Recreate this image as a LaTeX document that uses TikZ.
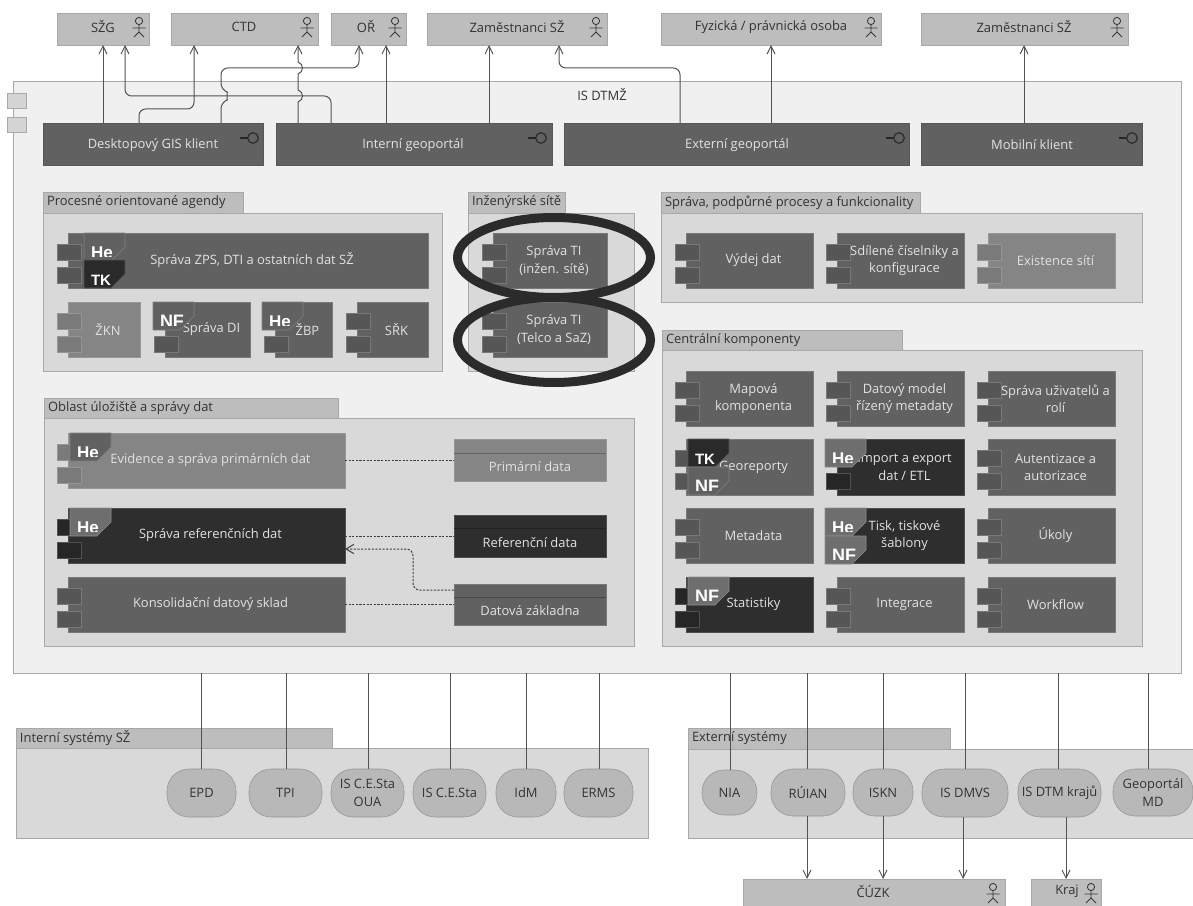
\documentclass[tikz,border=0pt]{standalone}
\usepackage{fontspec}
\setmainfont{Open Sans}
\newfontfamily\tagfont{Liberation Sans}
\usetikzlibrary{arrows.meta,calc,shapes.geometric}
\definecolor{cmid}{HTML}{616161}
\definecolor{cdark}{HTML}{2E2E2E}
\definecolor{clight}{HTML}{858585}
\definecolor{tmid}{HTML}{565656}
\definecolor{tdark}{HTML}{262626}
\definecolor{tlight}{HTML}{7A7A7A}
\definecolor{tagmid}{HTML}{6E6E6E}
\definecolor{tagblk}{HTML}{2A2A2A}
\definecolor{txtl}{HTML}{E2E2E2}
\definecolor{txtd}{HTML}{333333}
\definecolor{edge}{HTML}{A8A8A8}
\tikzset{
  boxbase/.style={inner sep=0pt,outer sep=0pt,font=\fontsize{9.7}{13}\selectfont,align=center},
  mainbox/.style={boxbase,draw=edge,fill=black!6},
  sidetab/.style={boxbase,draw=edge,fill=black!17},
  grpbody/.style={boxbase,draw=edge,fill=black!15},
  grptab/.style={boxbase,draw=edge,fill=black!26,text=txtd},
  actorbox/.style={boxbase,draw=edge,fill=black!26,text=txtd},
  clientbox/.style={boxbase,draw=cmid!90!black,fill=cmid,text=txtl},
  compbody/.style={boxbase,draw=#1!85!white,fill=#1},
  comptab/.style={boxbase,draw=#1!80!white,fill=#1},
  compsec/.style={boxbase,text=txtl},
  plain/.style={boxbase,text=txtd},
  ovalbox/.style={boxbase,draw=black!42,fill=black!28,text=txtd,rounded corners=16.5pt},
  ring/.style={ellipse,draw=black!83,line width=6.75pt,inner sep=0pt,outer sep=0pt},
  tagtext/.style={inner sep=0pt,outer sep=0pt,text=white,anchor=base west,font=\tagfont\bfseries},
  conn/.style={draw=black!68,line width=0.75pt,rounded corners=5pt,-{Straight Barb[length=6pt,width=6pt]}},
  link/.style={draw=black!68,line width=0.75pt},
  dashlink/.style={draw=black!75,line width=0.75pt,dash pattern=on 1.6pt off 1.1pt},
  dasharrow/.style={dashlink,rounded corners=5pt,-{Straight Barb[length=6pt,width=7pt]}},
  lolli/.style={draw=black!85,line width=0.8pt},
  actorline/.style={draw=black!78,line width=0.65pt},
}
\newcommand\bx[7]{%
  \pgfmathsetmacro\bxw{(#5-#3)*0.75}\pgfmathsetmacro\bxh{(#6-#4)*0.75}%
  \pgfmathsetmacro\bxcx{(#3+#5)/2}\pgfmathsetmacro\bxcy{(#4+#6)/2}%
  \node[#1,minimum width=\bxw pt,minimum height=\bxh pt] (#2) at (\bxcx,\bxcy) {#7};}
\newcommand\grp[8]{% name x1 ytop xtab ybody x2 y2 label
  \bx{grpbody}{#1}{#2}{#5}{#6}{#7}{}%
  \bx{grptab}{#1tab}{#2}{#3}{#4}{#5}{}%
  \node[plain,anchor=west] (#1lab) at (#2+4,{(#3+#5)/2}) {#8};}
\newcommand\comp[8]{% name x1 y1 x2 y2 fill tabfill text
  \bx{compbody=#6}{#1}{#2}{#3}{#4}{#5}{}%
  \pgfmathsetmacro\ta{#2-11}\pgfmathsetmacro\tb{#2+13}%
  \pgfmathsetmacro\tc{#3+11}\pgfmathsetmacro\td{#3+27}\pgfmathsetmacro\te{#3+34}\pgfmathsetmacro\tf{#3+50}%
  \bx{comptab=#7}{#1a}{\ta}{\tc}{\tb}{\td}{}%
  \bx{comptab=#7}{#1b}{\ta}{\te}{\tb}{\tf}{}%
  \node[compsec] (#1t) at ({(#2+#4)/2+4},{(#3+#5)/2}) {#8};}
\newcommand\tagbox[7]{% name x y fill text cliph size
  \fill[#4,draw=#4!80!white,line width=0.4pt] (#2,#3) -- (#2+41,#3) -- (#2+41,#3+14) -- (#2+27,#3+28) -- (#2,#3+28) -- cycle;
  \begin{scope}
    \clip (#2,#3) rectangle (#2+41,#3+#6);
    \node[tagtext] (#1) at (#2+7,#3+25) {\fontsize{#7}{14}\selectfont #5};
  \end{scope}}
\newcommand\actoricon[2]{%
  \draw[actorline] (#1,#2-6) circle[radius=3.6];
  \draw[actorline] (#1,#2-2.4) -- (#1,#2+5) (#1-6.5,#2+1) -- (#1+6.5,#2+1) (#1-5,#2+10) -- (#1,#2+5) -- (#1+5,#2+10);}
\newcommand\actorb[7]{% name x1 x2 textx label y1 y2
  \bx{actorbox}{#1}{#2}{#6}{#3}{#7}{}%
  \node[plain] (#1t) at (#4,{(#6+#7)/2-2}) {#5};}
\newcommand\client[6]{% name x1 x2 textx lollix text
  \bx{clientbox}{#1}{#2}{123}{#3}{165}{}%
  \node[compsec] (#1t) at (#4,145) {#6};
  \draw[lolli] (#5-13.5,138) -- (#5-5.5,138);
  \draw[lolli] (#5,138) circle[radius=5.3];}
\newcommand\datao[6]{% name y1 y2 yline fill text
  \bx{compbody=#5}{#1}{454}{#2}{606}{#3}{}%
  \draw[draw=#5!75!black,line width=0.7pt] (454,#4) -- (606,#4);
  \node[compsec] (#1t) at (530,{(#4+#3)/2}) {#6};}
\begin{document}
\begin{tikzpicture}[x=0.75pt,y=-0.75pt]
\useasboundingbox (0,0) rectangle (1193,906);
% main
\bx{mainbox}{main}{13}{81}{1181}{673}{}
\bx{sidetab}{mt1}{7}{93}{26}{108}{}
\bx{sidetab}{mt2}{7}{117}{26}{132}{}
\node[plain] (maint) at (602,95) {IS DTMŽ};
% actors top
\actorb{szg}{57}{149}{103}{SŽG}{13}{45}
\actorb{ctd}{171}{318}{244}{CTD}{13}{45}
\actorb{or}{331}{406}{366}{OŘ}{13}{45}
\actorb{zam}{427}{607}{517}{Zaměstnanci SŽ}{13}{45}
\actorb{fyz}{661}{881}{771}{Fyzická / právnická osoba}{13}{45}
\actorb{zamb}{921}{1128}{1024}{Zaměstnanci SŽ}{13}{45}
\actoricon{139}{27}\actoricon{307}{27}\actoricon{395}{27}\actoricon{596}{27}\actoricon{871}{27}\actoricon{1117}{27}
% clients
\client{dk}{43}{263}{153}{253}{Desktopový GIS klient}
\client{ig}{276}{552}{413}{541}{Interní geoportál}
\client{eg}{564}{909}{737}{899}{Externí geoportál}
\client{mk}{921}{1142}{1032}{1132}{Mobilní klient}
% groups
\grp{gp}{43}{192}{243}{213}{442}{371}{Procesné orientované agendy}
\grp{gi}{468}{192}{565}{213}{634}{371}{Inženýrské sítě}
\grp{gs}{661}{192}{920}{213}{1142}{302}{Správa, podpůrné procesy a funkcionality}
\grp{gc}{662}{330}{902}{350}{1142}{646}{Centrální komponenty}
\grp{go}{44}{398}{338}{418}{634}{646}{Oblast úložiště a správy dat}
% procesne
\comp{zps}{68}{233}{428}{288}{cmid}{tmid}{Správa ZPS, DTI a ostatních dat SŽ}
\tagbox{zpsh}{84}{233}{cmid}{He}{23}{12.75}
\tagbox{zpsk}{84}{260}{tagblk}{TK}{28}{11.25}
\comp{zkn}{68}{302}{140}{357}{clight}{tlight}{ŽKN}
\comp{sdi}{165}{302}{250}{357}{cmid}{tmid}{Správa DI}
\tagbox{sdin}{153}{302}{cmid}{NF}{23}{13.5}
\comp{zbp}{275}{302}{332}{357}{cmid}{tmid}{ŽBP}
\tagbox{zbph}{262}{302}{cmid}{He}{23}{12.75}
\comp{srk}{357}{302}{428}{357}{cmid}{tmid}{SŘK}
% inzenyrske
\comp{ti}{493}{233}{607}{288}{cmid}{tmid}{Správa TI\\(inžen. sítě)}
\comp{tt}{493}{302}{607}{357}{cmid}{tmid}{Správa TI\\(Telco a SaZ)}
% sprava
\comp{vyd}{686}{233}{813}{288}{cmid}{tmid}{Výdej dat}
\comp{sdil}{837}{233}{964}{288}{cmid}{tmid}{Sdílené číselníky a\\konfigurace}
\comp{exi}{988}{233}{1115}{288}{clight}{tlight}{Existence sítí}
% centralni
\comp{map}{686}{371}{813}{426}{cmid}{tmid}{Mapová\\komponenta}
\comp{dat}{837}{371}{964}{426}{cmid}{tmid}{Datový model\\řízený metadaty}
\comp{uziv}{988}{371}{1115}{426}{cmid}{tmid}{Správa uživatelů a\\rolí}
\comp{geo}{686}{439}{813}{495}{cmid}{tmid}{Georeporty}
\tagbox{geok}{688}{439}{tagblk}{TK}{28}{11.25}
\tagbox{geon}{688}{467}{cmid}{NF}{23}{13.5}
\comp{imp}{837}{439}{964}{495}{cdark}{tdark}{Import a export\\dat / ETL}
\tagbox{imph}{825}{439}{tagmid}{He}{23}{12.75}
\comp{aut}{988}{439}{1115}{495}{cmid}{tmid}{Autentizace a\\autorizace}
\comp{met}{686}{508}{813}{563}{cmid}{tmid}{Metadata}
\comp{tis}{837}{508}{964}{563}{cdark}{tdark}{Tisk, tiskové\\šablony}
\tagbox{tish}{825}{508}{tagmid}{He}{23}{12.75}
\tagbox{tisn}{825}{536}{tagmid}{NF}{23}{13.5}
\comp{uko}{988}{508}{1115}{563}{cmid}{tmid}{Úkoly}
\comp{sta}{686}{577}{813}{632}{cdark}{tdark}{Statistiky}
\tagbox{stan}{688}{577}{tagmid}{NF}{23}{13.5}
\comp{int}{837}{577}{964}{632}{cmid}{tmid}{Integrace}
\comp{wor}{988}{577}{1115}{632}{cmid}{tmid}{Workflow}
% oblast
\comp{evi}{68}{433}{345}{488}{clight}{tlight}{Evidence a správa primárních dat}
\tagbox{evih}{70}{433}{cmid}{He}{23}{12.75}
\comp{ref}{68}{508}{345}{563}{cdark}{tdark}{Správa referenčních dat}
\tagbox{refh}{70}{508}{tagmid}{He}{23}{12.75}
\comp{kon}{68}{577}{345}{632}{cmid}{tmid}{Konsolidační datový sklad}
\datao{dpr}{439}{481}{453}{clight}{Primární data}
\datao{drf}{515}{557}{528}{cdark}{Referenční data}
\datao{dzk}{584}{625}{597}{cmid}{Datová základna}
% external groups
\grp{gint}{16}{728}{332}{748}{648}{838}{Interní systémy SŽ}
\grp{gext}{688}{728}{950}{749}{1193}{838}{Externí systémy}
\bx{ovalbox}{epd}{167}{769}{236}{817}{EPD}
\bx{ovalbox}{tpi}{249}{769}{322}{817}{TPI}
\bx{ovalbox}{oua}{331}{769}{404}{817}{IS C.E.Sta\\OUA}
\bx{ovalbox}{ces}{413}{769}{486}{817}{IS C.E.Sta}
\bx{ovalbox}{idm}{496}{769}{556}{817}{IdM}
\bx{ovalbox}{erm}{564}{769}{633}{817}{ERMS}
\bx{ovalbox}{nia}{702}{770}{757}{815}{NIA}
\bx{ovalbox}{rui}{771}{769}{845}{816}{RÚIAN}
\bx{ovalbox}{isk}{853}{769}{913}{816}{ISKN}
\bx{ovalbox}{dmv}{922}{769}{1008}{817}{IS DMVS}
\bx{ovalbox}{dtm}{1018}{769}{1101}{817}{IS DTM krajů}
\bx{ovalbox}{gmd}{1113}{769}{1193}{816}{Geoportál\\MD}
% bottom actors
\actorb{cuz}{743}{1005}{873}{ČÚZK}{879}{908}
\actorb{kra}{1031}{1101}{1067}{Kraj}{879}{908}
\actoricon{993}{893}\actoricon{1091}{893}
% helper coordinates for connector columns and rows
\foreach \n/\v in {a/103,b/125,c/139,d/194,e/221,f/298,g/331,h/359,i/386,j/489,k/559,l/680,m/771,n/1024,
  p/201,q/286,r/368,s/450,t/526,u/599,v/730,w/807,x/883,y/965,z/1058,A/1148,B/963,C/1066}
  {\coordinate (c\n) at (\v,0);}
\coordinate (rh) at (0,96);\coordinate (rl) at (0,68);\coordinate (rd) at (0,109);
% top connectors
\draw[conn] (dk.north -| ca) -- (szg.south -| ca);
\draw[conn] (ig.north -| cg) -- (cg |- rh) -- (cb |- rh) -- (szg.south -| cb);
\draw[conn] (dk.north -| cc) -- (cc |- rd) -- (cd |- rd) -- (ctd.south -| cd);
\draw[conn,rounded corners=0pt] (ig.north -| cf) -- ($(cf |- rh)+(0,6)$) .. controls +(6,-2) and +(6,2) .. ($(cf |- rh)+(0,-6)$) -- ($(cf |- rl)+(0,6)$) .. controls +(6,-2) and +(6,2) .. ($(cf |- rl)+(0,-6)$) -- (ctd.south -| cf);
\draw[conn] (dk.north -| ce) -- ($(ce |- rh)+(0,6)$) .. controls +(6,-2) and +(6,2) .. ($(ce |- rh)+(0,-6)$) -- (ce |- rl) -- (ch |- rl) -- (or.south -| ch);
\draw[conn] (ig.north -| ci) -- (or.south -| ci);
\draw[conn] (ig.north -| cj) -- (zam.south -| cj);
\draw[conn] (eg.north -| cl) -- (cl |- rl) -- (ck |- rl) -- (zam.south -| ck);
\draw[conn] (eg.north -| cm) -- (fyz.south -| cm);
\draw[conn] (mk.north -| cn) -- (zamb.south -| cn);
% data links
\draw[dashlink] (evi.east |- dpr.south) ++(0,-21) -- (dpr.west);
\draw[dashlink] (ref.east |- drf.west) -- (drf.west);
\draw[dashlink] (kon.east |- dzk.west) -- (dzk.west);
\coordinate (dq) at (413,0);\coordinate (dv) at (0,590);\coordinate (dw) at (0,549);
\draw[dasharrow] (dzk.west |- dv) -- (dq |- dv) -- (dq |- dw) -- (ref.east |- dw);
% bottom links
\draw[link] (main.south -| cp) -- (epd.north -| cp);
\draw[link] (main.south -| cq) -- (tpi.north -| cq);
\draw[link] (main.south -| cr) -- (oua.north -| cr);
\draw[link] (main.south -| cs) -- (ces.north -| cs);
\draw[link] (main.south -| ct) -- (idm.north -| ct);
\draw[link] (main.south -| cu) -- (erm.north -| cu);
\draw[link] (main.south -| cv) -- (nia.north -| cv);
\draw[link] (main.south -| cw) -- (rui.north -| cw);
\draw[link] (main.south -| cx) -- (isk.north -| cx);
\draw[link] (main.south -| cy) -- (dmv.north -| cy);
\draw[link] (main.south -| cz) -- (dtm.north -| cz);
\draw[link] (main.south -| cA) -- (gmd.north -| cA);
\draw[conn] (rui.south -| cw) -- (cuz.north -| cw);
\draw[conn] (isk.south -| cx) -- (cuz.north -| cx);
\draw[conn] (dmv.south -| cB) -- (cuz.north -| cB);
\draw[conn] (dtm.south -| cC) -- (kra.north -| cC);
% rings
\node[ring,minimum width=144.75pt,minimum height=60pt] (ring1) at (554,257.5) {};
\node[ring,minimum width=144.75pt,minimum height=63.75pt] (ring2) at (554,340) {};
\end{tikzpicture}
\end{document}
